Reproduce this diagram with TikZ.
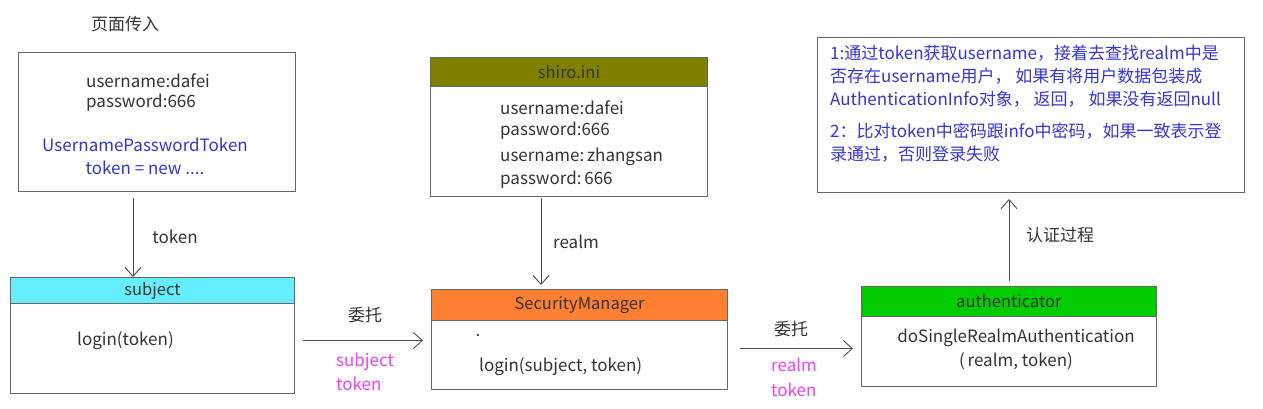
\documentclass[tikz,border=0pt]{standalone}
\usepackage{fontspec}
\setmainfont{Noto Sans CJK SC}
\usetikzlibrary{arrows.meta,calc}
\definecolor{txt}{HTML}{333333}
\definecolor{bluetxt}{HTML}{3535D0}
\definecolor{magtxt}{HTML}{F040F0}
\definecolor{cyanh}{HTML}{66EEFF}
\definecolor{oliveh}{HTML}{808000}
\definecolor{orangeh}{HTML}{FF8033}
\definecolor{greenh}{HTML}{00CC00}
\tikzset{
  box/.style={draw=black!60, line width=1pt, rectangle, inner sep=0pt, anchor=north west},
  hdr/.style={draw=black!60, line width=1pt, rectangle, inner sep=0pt, anchor=north west, text=txt, font=\fontsize{16.5}{19}\selectfont},
  lbl/.style={text=txt, font=\fontsize{17}{20}\selectfont, inner sep=0pt},
  blbl/.style={text=bluetxt, font=\fontsize{17}{20}\selectfont, inner sep=0pt},
  mlbl/.style={text=magtxt, font=\fontsize{17}{20}\selectfont, inner sep=0pt},
  arr/.style={draw=black!70, line width=0.9pt, -{Straight Barb[length=9pt,width=16pt]}},
}
\begin{document}
\begin{tikzpicture}[x=1pt,y=-1pt]
\useasboundingbox[fill=white] (0,0) rectangle (1263,408);
% page input
\node[lbl] (pin) at (125,24) {页面传入};
\node[box, minimum width=277pt, minimum height=139pt] (in) at (18,52) {};
\node[lbl, anchor=west, align=left] (inu) at (86,81) {username:dafei};
\node[lbl, anchor=west, align=left] (inp) at (86,103) {password:666};
\node[blbl] (int1) at (145,145) {UsernamePasswordToken};
\node[blbl] (int2) at (145,168) {token = new ....};
% subject
\node[box, minimum width=284pt, minimum height=116pt] (subj) at (10,277) {};
\node[hdr, fill=cyanh, minimum width=284pt, minimum height=26pt] (subjh) at (10,277) {subject};
\node[lbl, anchor=west] (subjl) at (77,341) {login(token)};
% shiro.ini
\node[box, minimum width=277pt, minimum height=139pt] (ini) at (430,57) {};
\node[hdr, fill=oliveh, minimum width=277pt, minimum height=29pt] (inih) at (430,57) {shiro.ini};
\node[lbl, anchor=west] (ini1) at (500,108) {username:dafei};
\node[lbl, anchor=west] (ini2) at (500,131) {password:666};
\node[lbl, anchor=west] (ini3) at (500,157) {username:\,zhangsan};
\node[lbl, anchor=west] (ini4) at (500,180) {password:\,666};
% SecurityManager
\node[box, minimum width=296pt, minimum height=100pt] (sm) at (431,289) {};
\node[hdr, fill=orangeh, minimum width=296pt, minimum height=31pt] (smh) at (431,289) {SecurityManager};
\node[lbl] (smdot) at (478,336) {.};
\node[lbl, anchor=west] (sml) at (479,367) {login(subject, token)};
% authenticator
\node[box, minimum width=295pt, minimum height=100pt] (au) at (861,286) {};
\node[hdr, fill=greenh, minimum width=295pt, minimum height=30pt] (auh) at (861,286) {authenticator};
\node[lbl] (au1) at (1016,338) {doSingleRealmAuthentication};
\node[lbl] (au2) at (1016,361) {(\,realm, token)};
% text box
\node[box, minimum width=427pt, minimum height=155pt] (tb) at (817,37) {};
\node[blbl, anchor=north west, align=left, font=\fontsize{17}{23}\selectfont] (tb1) at (830,45)
  {1:通过token获取username，接着去查找realm中是\\否存在username用户， 如果有将用户数据包装成\\AuthenticationInfo对象， 返回， 如果没有返回null};
\node[blbl, anchor=north west, align=left, font=\fontsize{17}{23}\selectfont] (tb2) at (830,123)
  {2：比对token中密码跟info中密码，如果一致表示登\\录通过，否则登录失败};
% connectors
\draw[arr] ($(in.south west)+(115,6)$) -- ($(subj.north west)+(123,0)$);
\node[lbl] (l1) at (175,237) {token};
\coordinate (a2s) at ($(subj.east)+(8,5)$);
\draw[arr] (a2s) -- ($(sm.west)+(-8,1)$);
\node[lbl] (l2) at (365,315) {委托};
\node[mlbl, anchor=west] (l2a) at (336,362) {subject};
\node[mlbl, anchor=west] (l2b) at (336,384) {token};
\draw[arr] ($(ini.south west)+(111,1)$) -- ($(sm.north west)+(110,-4)$);
\node[lbl] (l3) at (576,242) {realm};
\draw[arr] ($(sm.east)+(12,9)$) -- ($(au.west)+(-8,12)$);
\node[lbl] (l4) at (791,329) {委托};
\node[mlbl, anchor=west] (l4a) at (771,365) {realm};
\node[mlbl, anchor=west] (l4b) at (771,390) {token};
\draw[arr] ($(au.north west)+(148,-5)$) -- ($(tb.south west)+(192,6)$);
\node[lbl] (l5) at (1060,235) {认证过程};
\end{tikzpicture}
\end{document}
